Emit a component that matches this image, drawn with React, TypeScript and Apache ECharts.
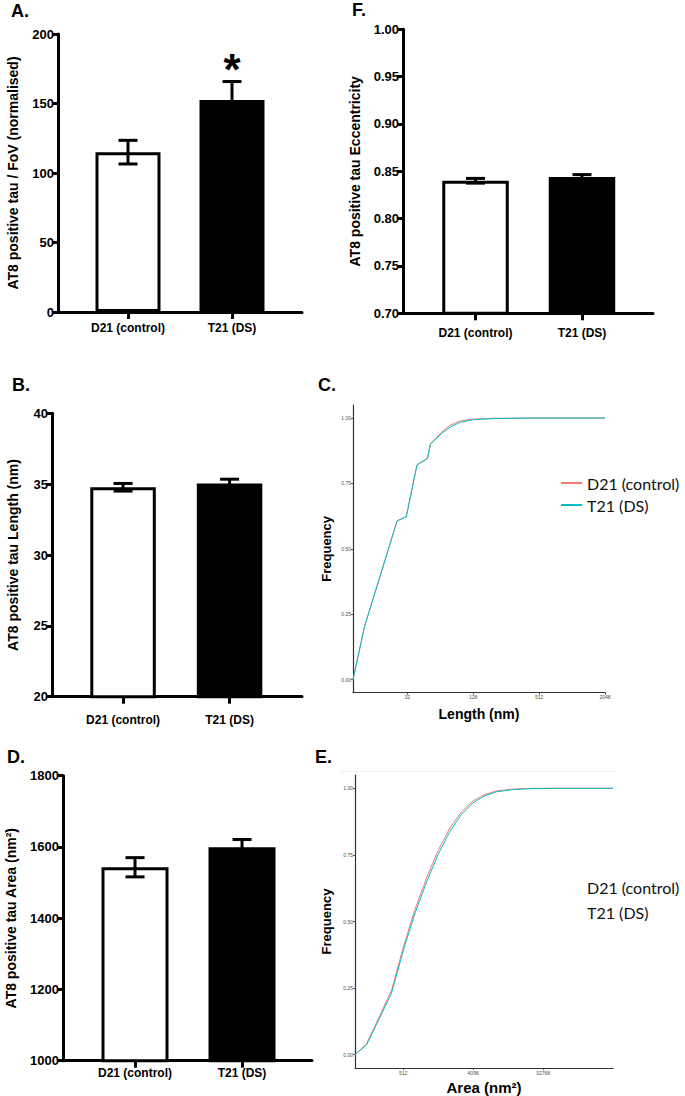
import React, { useEffect, useRef } from "react";
import * as echarts from "echarts";

// ---------- data ----------
const categories = ["D21 (control)", "T21 (DS)"];

// A. AT8 positive tau / FoV (normalised)
const fovMean = [115, 152.6];
const fovSem = [8.5, 13.2];
// F. Eccentricity
const eccMean = [0.84, 0.844];
const eccSem = [0.0025, 0.0025];
// B. Length (nm)
const lengthMean = [34.78, 35.05];
const lengthSem = [0.27, 0.3];
// D. Area (nm2)
const areaMean = [1543, 1599];
const areaSem = [27, 22];

// C. cumulative frequency of length
const lengthNm = [10.2, 13.0, 25.8, 31.3, 39.2, 49.0, 51.9, 65.3, 79, 97.6, 129, 195, 400, 2048];
const lengthCdfD21 = [0, 0.203, 0.607, 0.623, 0.821, 0.846, 0.9, 0.945, 0.973, 0.989, 0.996, 0.999, 1, 1];
const lengthCdfT21 = [0, 0.203, 0.607, 0.623, 0.821, 0.846, 0.9, 0.94, 0.966, 0.984, 0.994, 0.998, 1, 1];

// E. cumulative frequency of area
const areaNm2 = [122, 172, 256, 362, 512, 724, 1024, 1448, 2048, 2896, 4096, 5793, 8192, 13300, 23170, 46341, 262144];
const areaCdfD21 = [0, 0.04, 0.148, 0.242, 0.402, 0.545, 0.663, 0.767, 0.851, 0.912, 0.953, 0.977, 0.99, 0.997, 1, 1, 1];
const areaCdfT21 = [0, 0.037, 0.14, 0.232, 0.39, 0.53, 0.648, 0.752, 0.838, 0.902, 0.946, 0.972, 0.987, 0.995, 0.999, 1, 1];

const cdfTicks = [0, 0.25, 0.5, 0.75, 1];
const lengthTicks = [32, 128, 512, 2048];
const areaTicks = [512, 4096, 32768];
const barPositions = [1, 2];

// ---------- styles ----------
const FONT = "Liberation Sans";
const RED = "#F8766D";
const CYAN = "#00BFC4";

type BarPanel = {
  grid: any;
  yMin: number;
  yMax: number;
  yInterval: number;
  yFmt: (v: number) => string;
  xMin: number;
  xMax: number;
  mean: number[];
  sem: number[];
  title: string;
  nameGap: number;
  labelMargin: number;
  barWidth: number;
};

const barPanels: BarPanel[] = [
  {
    grid: { left: 58, top: 34, width: 244, height: 278 },
    yMin: 0, yMax: 200, yInterval: 50, yFmt: (v) => String(v),
    xMin: 0.327, xMax: 2.673,
    mean: fovMean, sem: fovSem,
    title: "AT8 positive tau / FoV (normalised)", nameGap: 38, labelMargin: 10, barWidth: 65,
  },
  {
    grid: { left: 403, top: 29.3, width: 250, height: 284 },
    yMin: 0.7, yMax: 1.0, yInterval: 0.05, yFmt: (v) => v.toFixed(2),
    xMin: 0.319, xMax: 2.667,
    mean: eccMean, sem: eccSem,
    title: "AT8 positive tau Eccentricity", nameGap: 41, labelMargin: 14, barWidth: 66.5,
  },
  {
    grid: { left: 52, top: 413.3, width: 250, height: 283.4 },
    yMin: 20, yMax: 40, yInterval: 5, yFmt: (v) => String(v),
    xMin: 0.333, xMax: 2.68,
    mean: lengthMean, sem: lengthSem,
    title: "AT8 positive tau Length (nm)", nameGap: 32, labelMargin: 17, barWidth: 65.5,
  },
  {
    grid: { left: 63, top: 775.7, width: 249, height: 285 },
    yMin: 1000, yMax: 1800, yInterval: 200, yFmt: (v) => String(v),
    xMin: 0.327, xMax: 2.654,
    mean: areaMean, sem: areaSem,
    title: "AT8 positive tau Area (nm²)", nameGap: 45, labelMargin: 6, barWidth: 67,
  },
];

function buildOption() {
  const grids: any[] = [];
  const xAxes: any[] = [];
  const yAxes: any[] = [];
  const series: any[] = [];

  const boldText = { fontFamily: FONT, fontWeight: "bold", color: "#000" };

  barPanels.forEach((p, i) => {
    grids.push({ ...p.grid, containLabel: false });
    xAxes.push({
      type: "value",
      gridIndex: i,
      min: p.xMin,
      max: p.xMax,
      axisLine: { show: true, onZero: false, lineStyle: { color: "#000", width: 3 } },
      axisTick: { show: true, customValues: barPositions, length: 7, lineStyle: { color: "#000", width: 3 } },
      axisLabel: {
        customValues: barPositions,
        formatter: (v: number) => categories[Math.round(v) - 1] || "",
        margin: p.labelMargin,
        fontSize: 12,
        ...boldText,
      },
      splitLine: { show: false },
    });
    yAxes.push({
      type: "value",
      gridIndex: i,
      min: p.yMin,
      max: p.yMax,
      interval: p.yInterval,
      name: p.title,
      nameLocation: "middle",
      nameGap: p.nameGap,
      nameTextStyle: { fontSize: 14, ...boldText },
      axisLine: { show: true, onZero: false, lineStyle: { color: "#000", width: 3 } },
      axisTick: { show: true, length: 6, lineStyle: { color: "#000", width: 3 } },
      axisLabel: { fontSize: 13, margin: 4, formatter: p.yFmt, ...boldText },
      splitLine: { show: false },
    });
    series.push({
      type: "bar",
      xAxisIndex: i,
      yAxisIndex: i,
      barWidth: p.barWidth,
      clip: true,
      itemStyle: { borderColor: "#000", borderWidth: 3 },
      data: p.mean.map((m, k) => ({
        value: [barPositions[k], m],
        itemStyle: { color: k === 0 ? "#ffffff" : "#000000" },
      })),
      z: 2,
    });
    series.push({
      type: "custom",
      xAxisIndex: i,
      yAxisIndex: i,
      z: 3,
      data: p.mean.map((m, k) => [barPositions[k], m, p.sem[k]]),
      renderItem: (params: any, api: any) => {
        const x = api.value(0);
        const m = api.value(1);
        const e = api.value(2);
        const top = api.coord([x, m + e]);
        const bot = api.coord([x, m - e]);
        const hw = 9.5;
        const st = { stroke: "#000", lineWidth: 3 };
        return {
          type: "group",
          children: [
            { type: "line", shape: { x1: top[0], y1: top[1], x2: bot[0], y2: bot[1] }, style: st },
            { type: "line", shape: { x1: top[0] - hw, y1: top[1], x2: top[0] + hw, y2: top[1] }, style: st },
            { type: "line", shape: { x1: bot[0] - hw, y1: bot[1], x2: bot[0] + hw, y2: bot[1] }, style: st },
          ],
        };
      },
    });
  });

  // cumulative frequency panels (C = 4, E = 5)
  const cdfPanels = [
    {
      grid: { left: 353, top: 405, width: 252, height: 287.7 },
      xMin: 10.2, xMax: 2048, ticks: lengthTicks, xName: "Length (nm)", xNameGap: 14, xNameSize: 14,
      x: lengthNm, d21: lengthCdfD21, t21: lengthCdfT21, yNameGap: 20,
    },
    {
      grid: { left: 355, top: 775, width: 258, height: 293.3 },
      xMin: 122, xMax: 262144, ticks: areaTicks, xName: "Area (nm²)", xNameGap: 12, xNameSize: 15,
      x: areaNm2, d21: areaCdfD21, t21: areaCdfT21, yNameGap: 22,
    },
  ];
  cdfPanels.forEach((p, j) => {
    const gi = 4 + j;
    grids.push({ ...p.grid, containLabel: false });
    xAxes.push({
      type: "log",
      logBase: 2,
      gridIndex: gi,
      min: p.xMin,
      max: p.xMax,
      name: p.xName,
      nameLocation: "middle",
      nameGap: p.xNameGap,
      nameTextStyle: { fontSize: p.xNameSize, ...boldText },
      axisLine: { show: true, onZero: false, lineStyle: { color: "#333", width: 1.2 } },
      axisTick: { show: true, customValues: p.ticks, length: 2, lineStyle: { color: "#333", width: 0.8 } },
      axisLabel: {
        customValues: p.ticks,
        formatter: (v: number) => String(Math.round(v)),
        fontSize: 5,
        margin: 2,
        color: "#4d4d4d",
        fontFamily: FONT,
      },
      splitLine: { show: false },
      minorSplitLine: { show: false },
    });
    yAxes.push({
      type: "value",
      gridIndex: gi,
      min: -0.05,
      max: 1.05,
      name: "Frequency",
      nameLocation: "middle",
      nameGap: p.yNameGap,
      nameTextStyle: { fontSize: 13, ...boldText },
      axisLine: { show: true, onZero: false, lineStyle: { color: "#333", width: 1.2 } },
      axisTick: { show: true, customValues: cdfTicks, length: 2, lineStyle: { color: "#333", width: 0.8 } },
      axisLabel: {
        customValues: cdfTicks,
        formatter: (v: number) => v.toFixed(2),
        fontSize: 5,
        margin: 2,
        color: "#4d4d4d",
        fontFamily: FONT,
      },
      splitLine: { show: false },
    });
    series.push({
      type: "line",
      name: categories[0],
      xAxisIndex: gi,
      yAxisIndex: gi,
      showSymbol: false,
      lineStyle: { color: RED, width: 1 },
      itemStyle: { color: RED },
      data: p.x.map((v, k) => [v, p.d21[k]]),
      z: 2,
    });
    series.push({
      type: "line",
      name: categories[1],
      xAxisIndex: gi,
      yAxisIndex: gi,
      showSymbol: false,
      lineStyle: { color: CYAN, width: 1 },
      itemStyle: { color: CYAN },
      data: p.x.map((v, k) => [v, p.t21[k]]),
      z: 3,
    });
  });

  const letter = (t: string, x: number, y: number) => ({
    type: "text",
    x,
    y,
    style: { text: t, font: `bold 18px '${FONT}'`, fill: "#000", verticalAlign: "middle", align: "left" },
  });

  const graphic: any[] = [
    letter("A.", 11, 11),
    letter("F.", 352, 10),
    letter("B.", 12, 385),
    letter("C.", 318, 385),
    letter("D.", 7, 757),
    letter("E.", 315, 757),
    {
      type: "text",
      x: 232,
      y: 69,
      style: { text: "*", font: `bold 44px '${FONT}'`, fill: "#000", align: "center", verticalAlign: "middle" },
    },
    {
      type: "line",
      shape: { x1: 340, y1: 771.5, x2: 617, y2: 771.5 },
      style: { stroke: "#f0f0f0", lineWidth: 1 },
      silent: true,
    },
    {
      type: "text",
      x: 587,
      y: 887,
      style: { text: categories[0], font: "16px Lato", fill: "#111", verticalAlign: "middle" },
    },
    {
      type: "text",
      x: 587,
      y: 912,
      style: { text: categories[1], font: "16px Lato", fill: "#111", verticalAlign: "middle" },
    },
  ];

  return {
    animation: false,
    backgroundColor: "#ffffff",
    grid: grids,
    xAxis: xAxes,
    yAxis: yAxes,
    legend: {
      data: categories,
      orient: "vertical",
      left: 561,
      top: 475,
      padding: 0,
      itemWidth: 21,
      itemHeight: 2,
      itemGap: 6,
      icon: "rect",
      selectedMode: false,
      textStyle: { fontFamily: "Lato", fontSize: 16, color: "#111" },
    },
    series,
    graphic,
  };
}

export default function App() {
  const ref = useRef<HTMLDivElement>(null);
  useEffect(() => {
    if (!ref.current) return;
    const chart = echarts.init(ref.current, null, { renderer: "svg" });
    chart.setOption(buildOption() as any);
    return () => chart.dispose();
  }, []);
  return (
    <div
      ref={ref}
      style={{ position: "absolute", left: 0, top: 0, width: 685, height: 1096, background: "#fff" }}
    />
  );
}
